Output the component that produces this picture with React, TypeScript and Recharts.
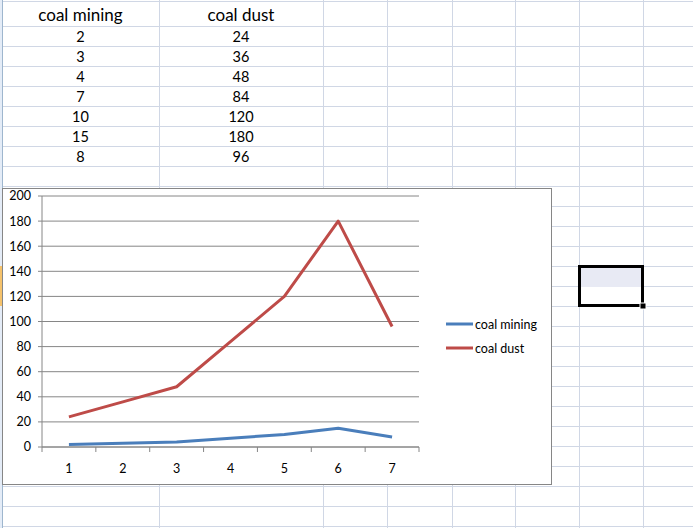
import { LineChart, Line, XAxis, YAxis, CartesianGrid } from "recharts";

const categories = [1, 2, 3, 4, 5, 6, 7];
const coalMining = [2, 3, 4, 7, 10, 15, 8];
const coalDust = [24, 36, 48, 84, 120, 180, 96];
const seriesNames = ["coal mining", "coal dust"];
const yTicks = [0, 20, 40, 60, 80, 100, 120, 140, 160, 180, 200];

const BLUE = "#4a7ebb";
const RED = "#be4b48";
const AXIS = "#868686";
const CELL = "#d0d7e5";
const FONT = "Lato, 'Liberation Sans', sans-serif";

const rowLines = [1, ...Array.from({ length: 26 }, (_, i) => 26 + i * 20)];
const colLines = [159, 323, 387, 452, 515, 579, 643];

const data = categories.map((c, i) => ({
  x: c,
  mining: coalMining[i],
  dust: coalDust[i],
}));

// tick marks sit between categories, labels sit in the middle
const boundaryTicks = [
  ...categories.map((c) => c - 0.5),
  categories[categories.length - 1] + 0.5,
];

const PLOT_W = 377;
const band = PLOT_W / categories.length;

function CatTick(props: any) {
  const { x, y, index } = props;
  if (index >= categories.length) return null;
  return (
    <text
      x={x + band / 2}
      y={y}
      dy="0.71em"
      textAnchor="middle"
      fill="#000"
      fontSize={12.5}
      fontFamily={FONT}
    >
      {categories[index]}
    </text>
  );
}

function Sheet() {
  return (
    <svg
      width={693}
      height={528}
      style={{ position: "absolute", left: 0, top: 0 }}
    >
      <rect x={0} y={0} width={693} height={528} fill="#fff" />
      {rowLines.map((y) => (
        <line key={"r" + y} x1={0} x2={693} y1={y + 0.5} y2={y + 0.5} stroke={CELL} />
      ))}
      {colLines.map((x) => (
        <line key={"c" + x} x1={x + 0.5} x2={x + 0.5} y1={0} y2={528} stroke={CELL} />
      ))}
      <rect x={0} y={0} width={2} height={528} fill="#e4ecf7" />
      <rect x={0} y={266} width={2} height={40} fill="#f5c26b" />
      <line x1={2.5} x2={2.5} y1={0} y2={528} stroke="#9eb6ce" />
      <rect x={580} y={267} width={62} height={20} fill="#e8eaf4" />
      <rect x={579.5} y={266.5} width={63} height={39} fill="none" stroke="#000" strokeWidth={3} />
      <rect x={640} y={303} width={6} height={6} fill="#000" stroke="#fff" strokeWidth={1} />
    </svg>
  );
}

function Table() {
  const cell = (left: number, width: number, top: number, text: string | number, size: number) => (
    <div
      key={left + "-" + top}
      style={{
        position: "absolute",
        left,
        width,
        top,
        textAlign: "center",
        fontSize: size,
        fontFamily: FONT,
        lineHeight: 1,
        color: "#000",
      }}
    >
      {text}
    </div>
  );
  return (
    <>
      {cell(2, 157, 6, seriesNames[0], 17)}
      {cell(159, 164, 6, seriesNames[1], 17)}
      {coalMining.map((v, i) => cell(2, 157, 30 + i * 20, v, 14.5))}
      {coalDust.map((v, i) => cell(159, 164, 30 + i * 20, v, 14.5))}
    </>
  );
}

export default function App() {
  return (
    <div
      style={{
        position: "fixed",
        left: 0,
        top: 0,
        width: 693,
        height: 528,
        overflow: "hidden",
        background: "#fff",
      }}
    >
      <Sheet />
      <Table />
      <div
        style={{
          position: "absolute",
          left: 2,
          top: 188,
          width: 548,
          height: 295,
          border: `1px solid ${AXIS}`,
          background: "#fff",
        }}
      />
      <div style={{ position: "absolute", left: 2, top: 188 }}>
        <LineChart
          width={550}
          height={297}
          data={data}
          margin={{ top: 8, right: 133, left: 0, bottom: 0 }}
        >
          <CartesianGrid vertical={false} stroke={AXIS} />
          <XAxis
            dataKey="x"
            type="number"
            domain={[0.5, 7.5]}
            ticks={boundaryTicks}
            interval={0}
            height={38}
            stroke={AXIS}
            tickSize={5}
            tickMargin={12}
            tick={<CatTick />}
          />
          <YAxis
            domain={[0, 200]}
            ticks={yTicks}
            interval={0}
            width={40}
            stroke={AXIS}
            tickSize={4}
            tickMargin={7}
            tick={{ fill: "#000", fontSize: 12.5, fontFamily: FONT }}
          />
          <Line
            dataKey="mining"
            name={seriesNames[0]}
            stroke={BLUE}
            strokeWidth={3}
            dot={false}
            isAnimationActive={false}
            strokeLinejoin="round"
          />
          <Line
            dataKey="dust"
            name={seriesNames[1]}
            stroke={RED}
            strokeWidth={3}
            dot={false}
            isAnimationActive={false}
            strokeLinejoin="round"
          />
        </LineChart>
      </div>
      <div style={{ position: "absolute", left: 446, top: 316 }}>
        {seriesNames.map((n, i) => (
          <div
            key={n}
            style={{ display: "flex", alignItems: "center", height: 16, marginBottom: i === 0 ? 8 : 0 }}
          >
            <svg width={29} height={16}>
              <line x1={0} x2={27} y1={8} y2={8} stroke={i === 0 ? BLUE : RED} strokeWidth={3} />
            </svg>
            <span style={{ fontFamily: FONT, fontSize: 12.5, color: "#000", whiteSpace: "nowrap" }}>{n}</span>
          </div>
        ))}
      </div>
    </div>
  );
}
